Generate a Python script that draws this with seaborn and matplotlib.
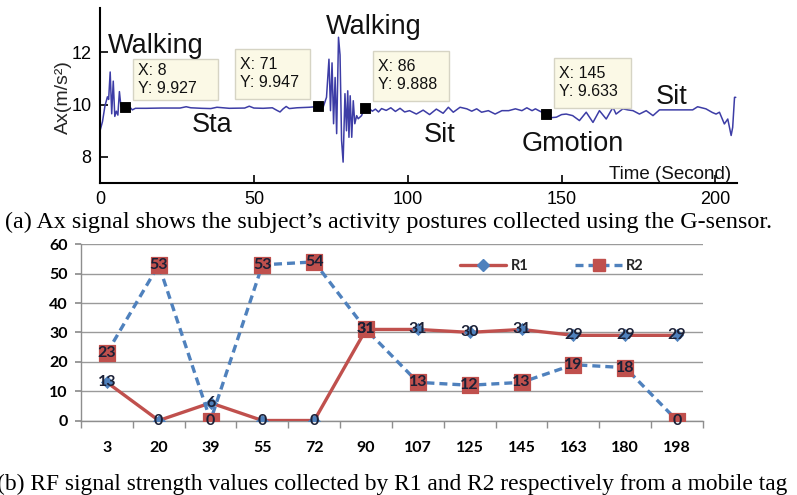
import matplotlib
matplotlib.use('Agg')
import matplotlib.pyplot as plt
import numpy as np
import pandas as pd
import seaborn as sns
from matplotlib.lines import Line2D
from matplotlib.patches import Rectangle
from matplotlib.ticker import FixedLocator

# ---------------- top panel data (Ax signal) ----------------
time_s = [0, 0.8, 1.6, 2.4, 2.8, 3.3, 3.8, 4.3, 4.8, 5.3, 5.8, 6.3, 6.8, 7.4, 8,
          9.5, 10.5, 11.5, 15, 20, 26, 28, 29.5, 33, 36, 38, 40, 42, 47, 48.5, 50, 53,
          56, 57.5, 58.5, 59.5, 60.5, 61.5, 64, 68, 70, 71,
          72.5, 73.6, 74.4, 74.9, 75.4, 75.9, 76.4, 76.9, 77.5, 78.0, 78.5, 79.0,
          79.6, 80.1, 80.5, 80.9, 81.3, 81.8, 82.3, 82.8, 83.4, 83.9, 85, 86,
          87.5, 88.5, 89.5, 90.5, 91.5, 93, 94.5, 96, 97.5, 99, 100.6, 102.8, 105,
          107.1, 109.3, 111.5, 113.2, 114.8, 117, 119.2, 120.8, 122.4, 124, 126.2,
          128.4, 130.6, 132.8, 135, 137.1, 138.7, 140.4, 141.5, 142.6, 145,
          146.5, 148.3, 150, 151.5, 153.6, 155.8, 158, 160.2, 162.3, 164.5, 166.7,
          167.7, 169.9, 171.5, 173.2, 175.3, 177.5, 179.7, 181.8, 186, 190, 192.6,
          194.2, 196.9, 199, 200.2, 201.3, 202.9, 204, 205.1, 205.6, 206.2, 206.6]
ax_signal = [9.0, 9.35, 9.95, 10.3, 10.2, 11.25, 9.65, 10.9, 9.55, 9.75, 9.6, 10.5, 9.93, 9.85, 9.927,
             9.93, 9.80, 9.86, 9.86, 9.87, 9.87, 9.92, 9.88, 9.86, 9.85, 9.9, 9.88, 9.86, 9.87, 9.94, 9.87, 9.86,
             9.88, 9.78, 9.72, 9.84, 9.93, 9.85, 9.88, 9.90, 9.92, 9.947,
             9.9, 10.28, 11.74, 9.77, 11.6, 9.27, 11.04, 8.89, 12.58, 11.9, 8.63, 7.8,
             10.42, 9.0, 10.53, 8.75, 10.34, 8.75, 10.15, 9.27, 9.58, 9.46, 9.58, 9.888,
             9.85, 9.75, 9.83, 9.72, 9.85, 9.78, 9.88, 9.74, 9.86, 9.72, 9.77, 9.64, 9.79,
             9.62, 9.83, 9.67, 9.90, 9.71, 9.90, 9.84, 9.75, 9.84, 9.71, 9.77,
             9.64, 9.77, 9.77, 9.84, 9.77, 9.88, 9.77, 9.84, 9.77, 9.633,
             9.50, 9.52, 9.62, 9.64, 9.58, 9.39, 9.71, 9.32, 9.77, 9.45, 9.90,
             9.64, 9.84, 9.80, 9.77, 9.64, 9.77, 9.58, 9.80, 9.80, 9.80, 9.80,
             9.92, 9.84, 9.70, 9.64, 9.71, 9.26, 9.45, 8.82, 9.13, 10.28, 10.28]
tip_x = [8, 71, 86, 145]
tip_y = [9.927, 9.947, 9.888, 9.633]
activity_labels = ['Walking', 'Sta', 'Walking', 'Sit', 'Gmotion', 'Sit']

# ---------------- bottom panel data ----------------
time_cats = ['3', '20', '39', '55', '72', '90', '107', '125', '145', '163', '180', '198']
r1 = [13, 0, 6, 0, 0, 31, 31, 30, 31, 29, 29, 29]
r2 = [23, 53, 0, 53, 54, 31, 13, 12, 13, 19, 18, 0]

caption_a = "(a) Ax signal shows the subject\u2019s activity postures collected using the G-sensor."
caption_b = "(b) RF signal strength values collected by R1 and R2 respectively from a mobile tag"

# ---------------- styling / layout ----------------
sns.set_theme(style='white')
plt.rcParams['font.family'] = ['Liberation Sans', 'DejaVu Sans']

RED = '#c0504d'
BLUE = '#4f81bd'
SIG = '#3d3da6'
LBL = ['Lato', 'DejaVu Sans']

fig = plt.figure(figsize=(7.97, 4.95), dpi=100)
fig.patch.set_facecolor('white')

# ---- top axes ----
ax1 = fig.add_axes([0.1255, 0.6303, 0.7992, 0.3535])
sns.lineplot(x=time_s, y=ax_signal, ax=ax1, color=SIG, lw=1.1,
             estimator=None, sort=False, errorbar=None)
sns.scatterplot(x=tip_x, y=tip_y, ax=ax1, marker='s', s=62, color='black',
                edgecolor='black', zorder=5)
ax1.set_xlim(0, 207)
ax1.set_ylim(7, 13.7)
ax1.set_xticks([0, 50, 100, 150, 200])
ax1.set_yticks([8, 10, 12])
ax1.tick_params(direction='in', length=6, width=1.2, labelsize=13, pad=6,
                bottom=True, left=True, colors='black')
for s in ['top', 'right']:
    ax1.spines[s].set_visible(False)
for s in ['left', 'bottom']:
    ax1.spines[s].set_color('black')
    ax1.spines[s].set_linewidth(1.5)
ax1.set_ylabel('Ax(m/s\u00b2)', fontsize=14)
ax1.yaxis.set_label_coords(-0.044, 0.49)

# datatip boxes (x0, x1, y0, y1 in data units)
tip_boxes = [(10.7, 38.3, 10.19, 11.76), (43.8, 68.2, 10.23, 12.14),
             (88.6, 113.3, 10.15, 12.06), (147.4, 172.4, 9.89, 11.79)]
for (x0, x1, y0, y1), x, y in zip(tip_boxes, tip_x, tip_y):
    ax1.add_patch(Rectangle((x0, y0), x1 - x0, y1 - y0, facecolor='#fbf9e6',
                            edgecolor='#d6d4c4', lw=1, zorder=4))
    ax1.text(x0 + 1.6, (y0 + y1) / 2, f"X: {x}\nY: {y}", ha='left', va='center',
             fontsize=11.5, linespacing=1.25, color='#111111', zorder=6)

label_pos = [(2.6, 11.98), (29.9, 8.94), (73.4, 12.70), (105.2, 8.56), (136.9, 8.22), (180.7, 10.03)]
for txt, (lx, ly) in zip(activity_labels, label_pos):
    ax1.text(lx, ly, txt, ha='left', va='baseline', fontsize=19.5, color='#111111', zorder=6)
ax1.text(205.2, 7.16, 'Time (Second)', ha='right', va='baseline', fontsize=13.5, color='#111111')

# ---- bottom axes ----
ax2 = fig.add_axes([0.1016, 0.1505, 0.7804, 0.356])
pos = list(range(len(time_cats)))
df = pd.DataFrame({'pos': pos * 2, 'value': r1 + r2,
                   'series': ['R1'] * len(r1) + ['R2'] * len(r2)})
sns.lineplot(data=df, x='pos', y='value', hue='series', style='series',
             palette={'R1': RED, 'R2': BLUE}, dashes={'R1': '', 'R2': (2.4, 1.5)},
             lw=2.4, ax=ax2, legend=False, zorder=3)
sns.scatterplot(x=pos, y=r1, ax=ax2, marker='D', s=38, color=BLUE, edgecolor=BLUE, zorder=4)
sns.scatterplot(x=pos, y=r2, ax=ax2, marker='s', s=120, color=RED, edgecolor=RED, zorder=4)
for series in (r1, r2):
    for i, v in enumerate(series):
        ax2.text(i, v, str(v), ha='center', va='center', fontsize=11.5, fontweight='bold',
                 color='#1b2036', zorder=6, family=LBL)

ax2.set_xlim(-0.5, len(time_cats) - 0.5)
ax2.set_ylim(0, 60)
ax2.set_yticks(range(0, 61, 10))
ax2.set_xticks(pos)
ax2.set_xticklabels(time_cats)
ax2.xaxis.set_minor_locator(FixedLocator([p - 0.5 for p in pos] + [len(pos) - 0.5]))
ax2.yaxis.grid(True, color='#9a9a9a', lw=1)
ax2.xaxis.grid(False)
ax2.set_axisbelow(True)
ax2.set_xlabel('')
ax2.set_ylabel('')
for s in ['top', 'right']:
    ax2.spines[s].set_visible(False)
for s in ['left', 'bottom']:
    ax2.spines[s].set_color('#8e8e8e')
    ax2.spines[s].set_linewidth(1)
ax2.tick_params(axis='x', which='major', length=0, pad=15, labelsize=11.5)
ax2.tick_params(axis='x', which='minor', length=5, color='#8e8e8e', bottom=True, width=1)
ax2.tick_params(axis='y', length=4, color='#8e8e8e', left=True, pad=5.5, labelsize=11.5)
for lab in ax2.get_xticklabels() + ax2.get_yticklabels():
    lab.set_fontweight('bold')
    lab.set_family(LBL)
    lab.set_color('black')

handles = [Line2D([], [], color=RED, lw=2.4, marker='D', mfc=BLUE, mec=BLUE, ms=6),
           Line2D([], [], color=BLUE, lw=2.4, ls=(0, (2.4, 1.5)), marker='s',
                  mfc=RED, mec=RED, ms=9)]
ax2.legend(handles, ['R1', 'R2'], loc='center', bbox_to_anchor=(0.757, 0.877), ncol=2,
           frameon=False, handlelength=3.2, columnspacing=3.2, handletextpad=0.3,
           prop={'weight': 'bold', 'size': 10.5, 'family': LBL})

# ---- captions ----
fig.text(0.487, 0.5515, caption_a, ha='center', va='center', fontsize=17.4,
         family=['Liberation Serif', 'DejaVu Serif'], color='black')
fig.text(0.492, 0.022, caption_b, ha='center', va='center', fontsize=16.9,
         family=['Liberation Serif', 'DejaVu Serif'], color='black')

fig.savefig('out.png', dpi=100, facecolor='white')
